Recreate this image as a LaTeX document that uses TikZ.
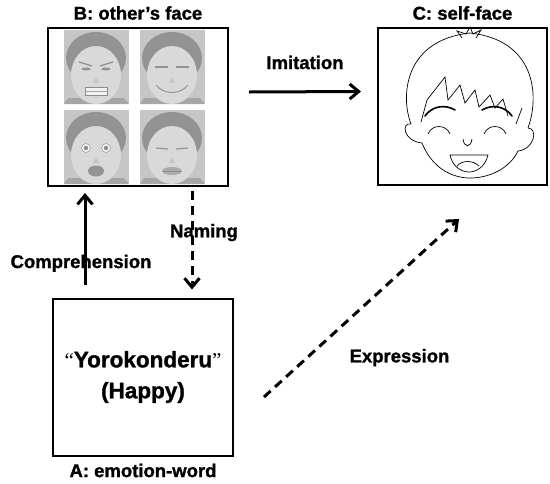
\documentclass[tikz,border=0pt]{standalone}
\usepackage{fontspec}
\setmainfont{Liberation Sans}
\newfontfamily\heavyfont{Liberation Sans Bold}[FakeBold=1.2]
\newfontfamily\quotefont{Liberation Serif}
\usetikzlibrary{arrows.meta,positioning}

\begin{document}
\begin{tikzpicture}[x=1pt,y=-1pt,
  panel/.style={draw, line width=2pt, inner sep=0pt, minimum width=180pt, minimum height=158pt},
  lbl/.style={font=\heavyfont\fontsize{18.5}{20}\selectfont, inner sep=0pt},
  arr/.style={line width=3pt, -{Straight Barb[length=9pt,width=15pt,line width=3pt]}},
  darr/.style={arr, dash pattern=on 9pt off 6pt},
  sketch/.style={line width=0.7pt},
  lash/.style={line width=1.6pt, line cap=round}]

\useasboundingbox (0,0) rectangle (550,483);

% the three panels
\node[panel] (other) at (138,107) {};
\node[panel, minimum width=169pt, minimum height=157pt] (self) at (462.5,106.5) {};
\node[panel, minimum height=157pt, align=center, font=\heavyfont\fontsize{22.5}{31}\selectfont] (word) at (143,377)
  {{\quotefont\fontsize{21}{21}\selectfont “}Yorokonderu{\quotefont\fontsize{21}{21}\selectfont ”}\\(Happy)};

\node[lbl, above=7pt of other.north] (otherlbl) {B: other’s face};
\node[lbl, above=7pt of self.north] (selflbl) {C: self-face};
\node[lbl, below=7pt of word.south] (wordlbl) {A: emotion-word};

% photos of the other's face
\foreach \px/\py in {64/30, 140/30, 64/110, 140/110} {
\begin{scope}[shift={(\px,\py)}]
\fill[gray!45] (0,0) rectangle (65,74);
\fill[gray!85] (32,28) ellipse (30 and 26);
\fill[gray!70] (0,74) -- (4,68) -- (60,68) -- (65,74) -- cycle;
\fill[gray!30] (32,45) ellipse (25 and 29);
\fill[gray!45] (32,47) -- (29,53) -- (35,53) -- cycle;
\end{scope}
}

% angry
\begin{scope}[shift={(64,30)}]
\draw[gray!90, line width=1.2pt] (15,32) -- (28,36) (49,32) -- (36,36);
\fill[gray!85] (22,39) ellipse (4.5 and 1.5) (42,39) ellipse (4.5 and 1.5);
\filldraw[fill=gray!10, draw=gray!90, line width=1pt] (21,57) rectangle (43,65);
\draw[gray!70] (21,61) -- (43,61);
\end{scope}

% happy
\begin{scope}[shift={(140,30)}]
\draw[gray!85, line width=1.2pt] (15,37) -- (28,37) (36,37) -- (49,37);
\draw[gray!85, line width=1pt] (16,55) .. controls (24,65) and (40,65) .. (48,55);
\end{scope}

% surprised
\begin{scope}[shift={(64,110)}]
\filldraw[fill=gray!10, draw=gray!90] (22,38) circle (4.5) (42,38) circle (4.5);
\fill[gray!90] (22,38) circle (2.2) (42,38) circle (2.2);
\fill[gray!85] (32,61) ellipse (8 and 5.5);
\end{scope}

% pouting
\begin{scope}[shift={(140,110)}]
\draw[gray!85, line width=1.2pt] (16,38) -- (28,39) (36,39) -- (48,38);
\fill[gray!65] (32,61) ellipse (10 and 4);
\draw[gray!90] (23,61) -- (41,61);
\end{scope}

% self-face drawing
\draw[sketch] (411,124) .. controls (400,95) and (405,40) .. (470,33) .. controls (535,40) and (540,95) .. (528,128);
\draw[sketch] (411,124) .. controls (401,122) and (403,141) .. (422,143);
\draw[sketch] (528,128) .. controls (538,128) and (535,149) .. (518,151);
\draw[sketch] (422,143) .. controls (432,168) and (452,178) .. (470,178) .. controls (490,178) and (510,168) .. (518,151);
\draw[sketch] (462,38) -- (457,31) -- (466,34) -- (470,27) -- (473,34) -- (481,30) -- (476,38);
\draw[sketch] (421,122) -- (427,100) -- (445,77) -- (448,100) -- (460,85) -- (465,103) -- (475,90) -- (479,107)
  -- (490,95) -- (495,108) -- (503,99) -- (508,116);
\draw[sketch] (522,108) -- (516,124);
\draw[lash] (425,116) .. controls (432,106) and (445,104) .. (455,110);
\draw[lash] (482,110) .. controls (492,104) and (505,106) .. (512,116);
\draw[sketch] (428,134) .. controls (432,124) and (446,124) .. (450,134);
\draw[sketch] (484,134) .. controls (488,124) and (502,124) .. (506,134);
\draw[sketch] (463,139) .. controls (464,148) and (471,148) .. (472,139);
\draw[sketch] (450,155) -- (488,155) .. controls (485,168) and (475,172) .. (469,172) .. controls (460,172) and (452,165) .. (450,155) -- cycle;
\draw[sketch] (457,166) .. controls (462,160) and (473,160) .. (479,166);

% connectors
\draw[arr] ([xshift=20pt,yshift=15pt]other.east) -- ([xshift=-16pt,yshift=15pt]self.west)
  node[lbl, midway, above=21pt] (imit) {Imitation};
\draw[arr] ([xshift=33pt,yshift=13pt]word.north west) -- ([xshift=38pt,yshift=-6pt]other.south west)
  node[lbl, pos=0.18, anchor=base, xshift=-4pt] (compr) {Comprehension};
\draw[darr] ([xshift=145pt,yshift=-4pt]other.south west) -- ([xshift=140pt,yshift=8pt]word.north west)
  node[lbl, pos=0.47, anchor=base, xshift=12pt] (nam) {Naming};
\draw[darr] ([xshift=30pt,yshift=-20pt]word.east) -- ([xshift=82pt,yshift=-33pt]self.south west)
  node[lbl, pos=0.7, anchor=base, shift={(-1,90)}] (expr) {Expression};

\end{tikzpicture}
\end{document}
